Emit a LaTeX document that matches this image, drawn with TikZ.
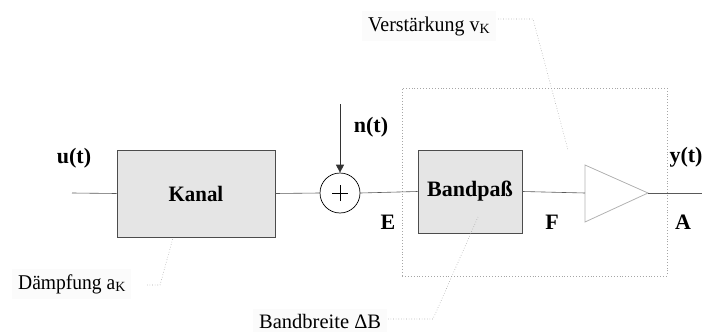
\documentclass[tikz,border=0pt]{standalone}
\usepackage{fontspec}
\setmainfont{Liberation Serif}
\usetikzlibrary{arrows.meta}
\newcommand{\subK}{\raisebox{-2.5pt}{\fontsize{14}{14}\selectfont K}}
\begin{document}
\begin{tikzpicture}[x=1pt,y=-1pt,
  blockbox/.style={draw=gray!60!black, fill=gray!20, line width=0.8pt, inner sep=0pt, font=\fontsize{22}{26}\selectfont\bfseries},
  sig/.style={draw=gray!70!black, line width=0.6pt},
  siglabel/.style={font=\fontsize{22}{26}\selectfont\bfseries, inner sep=1pt},
  note/.style={font=\fontsize{21}{24}\selectfont, fill=gray!3, inner xsep=6pt, inner ysep=5pt, anchor=base west},
  leader/.style={draw=gray!70, dotted, line width=0.6pt},
  group/.style={draw=gray!70, dotted, line width=0.9pt, inner sep=0pt}
]
\useasboundingbox (0,0) rectangle (702,332);

\node[group, minimum width=265, minimum height=188] (grp) at (534.5,182) {};

\node[blockbox, minimum width=158, minimum height=87] (kanal) at (196,193.5) {\scalebox{0.95}[1]{Kanal}};
\node[draw=black, circle, minimum size=40, inner sep=0pt, line width=0.7pt] (sum) at (340,193) {};
\draw[line width=0.8pt] ([xshift=-8]sum.center) -- ([xshift=8]sum.center)
      ([yshift=-8]sum.center) -- ([yshift=8]sum.center);
\node[blockbox, minimum width=104, minimum height=83] (bp) at (470,191.5) {Bandpaß};

\coordinate (ampL) at (585,193);
\coordinate (ampR) at (648,193);
\draw[draw=gray!60, line width=0.8pt] (585,165) -- (ampR) -- (585,222) -- cycle;

\coordinate (in) at (72,193);
\coordinate (out) at (702,193);
\coordinate (ntop) at (340,104);

\draw[sig] (in) -- (kanal.west);
\draw[sig] (kanal.east) -- (sum.west);
\draw[sig] (sum.east) -- (bp.west);
\draw[sig] (bp.east) -- (ampL);
\draw[sig] (ampR) -- (out);
\draw[draw=black!80, line width=0.9pt, -{Triangle[length=8pt,width=8pt]}] (ntop) -- (sum.north);

\node[siglabel] (u) at (74,158) {u(t)};
\node[siglabel] (n) at (371,127) {n(t)};
\node[siglabel] (y) at (686,157) {y(t)};
\node[siglabel] (E) at (388,222) {E};
\node[siglabel] (F) at (552,222) {F};
\node[siglabel] (A) at (683,222) {A};

\node[note] (damp) at (12,289) {\scalebox{0.93}[1]{Dämpfung a}\subK};
\node[note] (vk) at (362,31) {\scalebox{0.95}[1]{Verstärkung v}\subK};
\node[note, font=\fontsize{20.5}{24}\selectfont] (bb) at (253,328) {Bandbreite ΔB};

\coordinate (d1) at (147,285);
\coordinate (d2) at (160,285);
\coordinate (d3) at (173,238);
\draw[leader] (d1) -- (d2) -- (d3);

\coordinate (v1) at (498,19);
\coordinate (v2) at (533,19);
\coordinate (v3) at (568,150);
\draw[leader] (v1) -- (v2) -- (v3);

\coordinate (b1) at (388,319);
\coordinate (b2) at (433,319);
\coordinate (b3) at (478,217);
\draw[leader] (b1) -- (b2) -- (b3);
\end{tikzpicture}
\end{document}
